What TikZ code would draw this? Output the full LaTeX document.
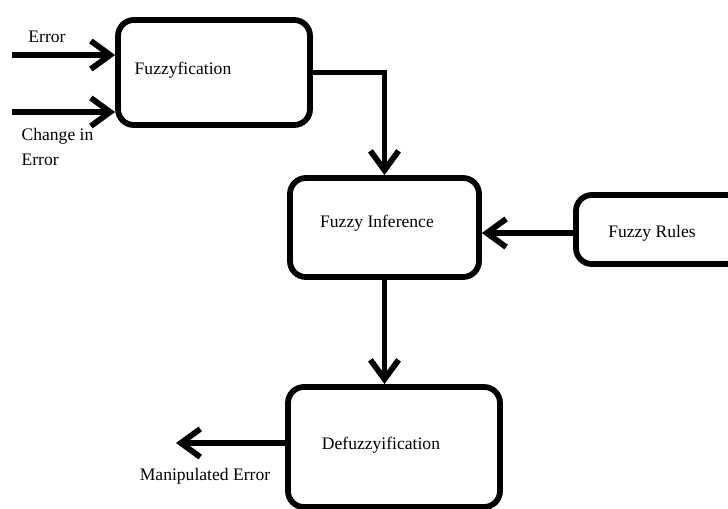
\documentclass[tikz,border=0pt]{standalone}
\usepackage{fontspec}
\setmainfont{Liberation Serif}
\usetikzlibrary{arrows.meta,positioning}

\begin{document}
\begin{tikzpicture}[->,>={Straight Barb[length=11pt,width=16pt]},x=0.02cm,y=-0.02cm,line width=3.3pt,font=\fontsize{10}{14}\selectfont]
  \tikzstyle{box}=[draw=black,rounded corners=9pt,inner sep=0pt]
  \tikzstyle{txt}=[inner sep=1pt,text=black]

  \clip (0,0) rectangle (728,508);

  \node[box, minimum width=3.84cm, minimum height=2.1cm]  (fuzz)   at (214,72.5) {};
  \node[box, minimum width=3.78cm, minimum height=1.98cm] (infer)  at (384.5,227.5) {};
  \node[box, minimum width=3.32cm, minimum height=1.38cm] (rules)  at (659,229.5) {};
  \node[box, minimum width=4.24cm, minimum height=2.4cm]  (defuzz) at (394,447) {};

  \node[txt] (fuzzt)   at (183,70)  {Fuzzyfication};
  \node[txt] (infert)  at (377,223) {Fuzzy Inference};
  \node[txt] (rulest)  at (652,233) {Fuzzy Rules};
  \node[txt] (defuzzt) at (381,445) {Defuzzyification};

  \coordinate (errin) at (12,55);
  \coordinate (chgin) at (12,112);
  \coordinate (out)   at (176,443);

  \node[txt] (errl) at (47,37) {Error};
  \node[txt, align=left, anchor=north west] (chgl) at (17,124) {Change in\\Error};
  \node[txt] (outl) at (205,476) {Manipulated Error};

  \draw (errin) -- (fuzz.west |- errin);
  \draw (chgin) -- (fuzz.west |- chgin);
  \draw (fuzz.east) -| (infer.north);
  \draw (rules.west |- 0,233) -- (infer.east |- 0,233);
  \draw (infer.south) -- (infer.south |- defuzz.north);
  \draw (defuzz.west |- out) -- (out);
\end{tikzpicture}
\end{document}
